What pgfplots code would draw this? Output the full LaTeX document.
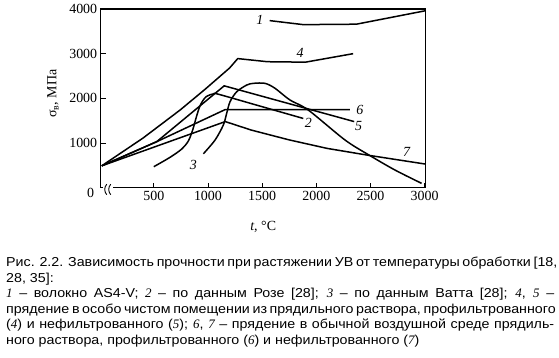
\documentclass[border=0pt]{standalone}
\usepackage{fontspec}
\setmainfont{Liberation Serif}
\newfontfamily\capfont[FakeStretch=1.1]{Liberation Sans}
\usepackage{pgfplots}
\pgfplotsset{compat=1.18}
\newcommand{\ci}[1]{{\rmfamily\itshape #1}}
\begin{document}
\begin{tikzpicture}[x=1bp,y=1bp]
\path[use as bounding box] (-100.7,-169.3) rectangle (458.3,187.7);
\begin{axis}[
  at={(0,0)}, anchor=south west,
  scale only axis, width=325bp, height=178.7bp,
  xmin=10, xmax=3010, ymin=0, ymax=4000,
  xtick={500,1000,1500,2000,2500,3000},
  ytick={1000,2000,3000,4000},
  extra y ticks={0},
  extra y tick style={major tick length=0pt, yticklabel style={yshift=-5bp,xshift=-3bp}},
  tick align=inside, xtick pos=bottom, ytick pos=left,
  major tick length=5bp,
  tick style={black, line width=0.9bp},
  axis line style={line width=1.1bp},
  ticklabel style={font=\fontsize{14}{14}\selectfont},
  /pgf/number format/assume math mode=true,
  /pgf/number format/1000 sep={},
  xlabel={\textit{t}, °C},
  xlabel style={font=\fontsize{14}{14}\selectfont, at={(axis description cs:0.5,-0.22)}, anchor=center},
  ylabel={σ\textsubscript{в}, МПа},
  ylabel style={font=\fontsize{14}{14}\selectfont, at={(axis description cs:-0.147,0.527)}, anchor=center},
  clip=false,
]
% 1
\addplot[black, line width=1.5bp] coordinates {(1570,3740) (1880,3650) (2370,3660) (3005,3960)};
% 4
\addplot[black, line width=1.5bp] coordinates {(20,490) (400,1110) (743,1739) (973,2202) (1200,2680) (1275,2890) (1550,2820) (1900,2810) (2340,3000)};
% 5
\addplot[black, line width=1.5bp] coordinates {(20,490) (527,1030) (1150,2280) (2350,1480)};
% 6
\addplot[black, line width=1.5bp] coordinates {(20,490) (527,1030) (1160,1750) (2310,1750)};
% 7
\addplot[black, line width=1.5bp] coordinates {(20,490) (1160,1480) (1400,1290) (1750,1070) (2100,880) (2470,730) (3005,530)};
% 2
\addplot[black, line width=1.5bp, smooth, tension=0.5] coordinates {(500,470) (650,680) (760,870) (820,1050) (860,1300) (895,1600) (930,1850) (980,2030) (1050,2100) (1100,2090) (1490,1820) (1880,1550)};
% 3
\addplot[black, line width=1.5bp, smooth, tension=0.5] coordinates {(958,760) (1066,1068) (1142,1403) (1173,1665) (1204,1925) (1266,2149) (1358,2298) (1420,2336) (1527,2336) (1619,2225) (1757,1963) (1926,1739) (2265,1068) (2486,732) (2726,396) (2972,98)};
\begin{scope}[every node/.style={font=\fontsize{14}{14}\selectfont\itshape}]
\node at (axis cs:1480,3750) {1};
\node at (axis cs:1850,3010) {4};
\node at (axis cs:2403,1739) {6};
\node at (axis cs:2390,1381) {5};
\node at (axis cs:1926,1441) {2};
\node at (axis cs:2834,806) {7};
\node at (axis cs:865,508) {3};
\end{scope}
\end{axis}
% axis break
\fill[white] (1.8,-2.5) rectangle (12.3,2.5);
\draw[line width=0.9bp] (6.0,3.5) to[bend right=40] (6.0,-7);
\draw[line width=0.9bp] (10.0,3.5) to[bend right=40] (10.0,-7);
% caption
\begin{scope}[every node/.style={anchor=base west, inner sep=0pt, font=\capfont\fontsize{13}{13}\selectfont}]
\node at (-94.7,-79) {\makebox[548bp][s]{Рис. 2.2. Зависимость прочности при растяжении УВ от температуры обработки [18,}};
\node at (-94.7,-94.5) {28, 35]:};
\node at (-94.7,-110) {\makebox[548bp][s]{\ci{1} – волокно AS4-V; \ci{2} – по данным Розе [28]; \ci{3} – по данным Ватта [28]; \ci{4}, \ci{5} –}};
\node at (-94.7,-125.5) {\makebox[548bp][s]{прядение в особо чистом помещении из прядильного раствора, профильтрованного}};
\node at (-94.7,-141) {\makebox[548bp][s]{(\ci{4}) и нефильтрованного (\ci{5}); \ci{6}, \ci{7} – прядение в обычной воздушной среде прядиль-}};
\node at (-94.7,-156.5) {ного раствора, профильтрованного (\ci{6}) и нефильтрованного (\ci{7})};
\end{scope}
\end{tikzpicture}
\end{document}
